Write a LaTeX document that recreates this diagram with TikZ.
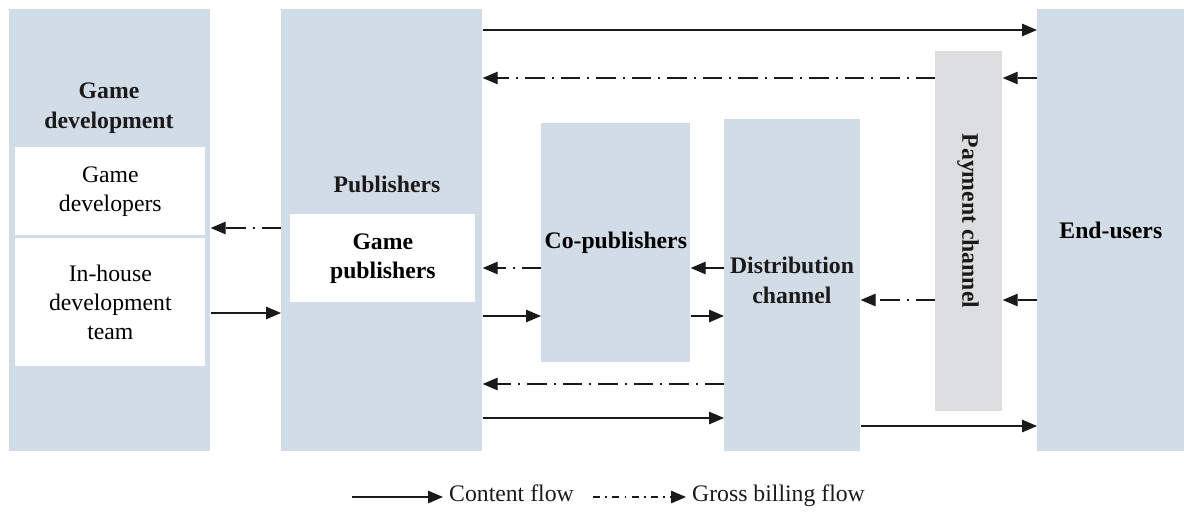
\documentclass[tikz,border=0pt]{standalone}
\usepackage{fontspec}
\setmainfont{Liberation Serif}
\usepackage{tikz}
\usepackage{xcolor}
\usetikzlibrary{arrows.meta,positioning}
\definecolor{panelblue}{HTML}{D1DCE7}
\definecolor{panelgray}{HTML}{DCDDDF}
\definecolor{ink}{HTML}{1A1A1A}
\tikzset{
  panel/.style={fill=panelblue,draw=none,anchor=north west,inner sep=0pt,
                align=center,font=\fontsize{13.5}{16.5}\selectfont\bfseries},
  paybox/.style={fill=panelgray,draw=none,anchor=north west,inner sep=0pt},
  whitebox/.style={fill=white,draw=none,anchor=north west,inner sep=0pt,
                   align=center,font=\fontsize{13.5}{16.5}\selectfont},
  title/.style={align=center,font=\fontsize{13.5}{17}\selectfont\bfseries,
                text=ink},
  lbl/.style={font=\fontsize{13.5}{16.5}\selectfont,text=ink,
              text height=1.6ex,text depth=0.5ex},
  cflow/.style={-{Triangle[length=3mm,width=2.5mm]},line width=0.7pt,
                draw=ink},
  bflow/.style={-{Triangle[length=3mm,width=2.5mm]},line width=0.7pt,
                draw=ink,dash pattern=on 11pt off 4pt on 1.2pt off 4pt}
}
\begin{document}
\begin{tikzpicture}[x=0.02cm,y=-0.02cm]
    \useasboundingbox (0,0) rectangle (1184,512);

    % columns
    \node[panel,minimum width=4.02cm,minimum height=8.84cm] (gd) at (9,9) {};
    \node[whitebox,minimum width=3.8cm,minimum height=1.76cm] (gdev) at (15,147)
      {Game\\developers};
    \node[whitebox,minimum width=3.8cm,minimum height=2.56cm] (inh) at (15,238)
      {In-house\\development\\team};
    \node[title] (gdt) at (109,108) {Game\\development};

    \node[panel,minimum width=4.02cm,minimum height=8.84cm] (pub) at (281,9) {};
    \node[title] (pubt) at (387,184) {Publishers};
    \node[whitebox,minimum width=3.7cm,minimum height=1.76cm,
          font=\fontsize{13.5}{16.5}\selectfont\bfseries] (gpub) at (290,214)
      {Game\\publishers};

    \node[panel,minimum width=2.98cm,minimum height=4.78cm] (cop) at (541,123)
      {Co-publishers};

    \node[panel,minimum width=2.72cm,minimum height=6.64cm] (dist) at (724,119) {};
    \node[title] (distt) at (792,280) {Distribution\\channel};

    \node[paybox,minimum width=1.34cm,minimum height=7.2cm] (pay) at (935,51) {};
    \node[title,rotate=-90] (payt) at (968,221) {Payment channel};

    \node[panel,minimum width=2.94cm,minimum height=8.84cm] (eu) at (1037,9)
      {End-users};

    % rows of the flows
    \coordinate (r1) at (0,30);
    \coordinate (r2) at (0,78);
    \coordinate (r3) at (0,228);
    \coordinate (r4) at (0,268);
    \coordinate (r5) at (0,300);
    \coordinate (r6) at (0,313);
    \coordinate (r7) at (0,316);
    \coordinate (r8) at (0,384);
    \coordinate (r9) at (0,418);
    \coordinate (r10) at (0,426);

    \draw[cflow] (pub.east |- r1) -- (eu.west |- r1);
    \draw[bflow] (pay.west |- r2) -- (pub.east |- r2);
    \draw[bflow] (eu.west |- r2) -- (pay.east |- r2);
    \draw[bflow] (pub.west |- r3) -- (gd.east |- r3);
    \draw[cflow] (gd.east |- r6) -- (pub.west |- r6);
    \draw[bflow] (cop.west |- r4) -- (pub.east |- r4);
    \draw[bflow] (dist.west |- r4) -- (cop.east |- r4);
    \draw[cflow] (pub.east |- r7) -- (cop.west |- r7);
    \draw[cflow] (cop.east |- r7) -- (dist.west |- r7);
    \draw[bflow] (pay.west |- r5) -- (dist.east |- r5);
    \draw[bflow] (eu.west |- r5) -- (pay.east |- r5);
    \draw[bflow] (dist.west |- r8) -- (pub.east |- r8);
    \draw[cflow] (pub.east |- r9) -- (dist.west |- r9);
    \draw[cflow] (dist.east |- r10) -- (eu.west |- r10);

    % legend
    \coordinate (lg1) at (352,497);
    \node[lbl,anchor=west] (lgc) at (443,497) {Content flow};
    \coordinate (lg2) at (593,497);
    \node[lbl,anchor=west] (lgb) at (686,497) {Gross billing flow};
    \draw[cflow] (lg1) -- (lgc.west);
    \draw[bflow,dash pattern=on 4pt off 3pt on 1pt off 3pt] (lg2) -- (lgb.west);
\end{tikzpicture}
\end{document}
